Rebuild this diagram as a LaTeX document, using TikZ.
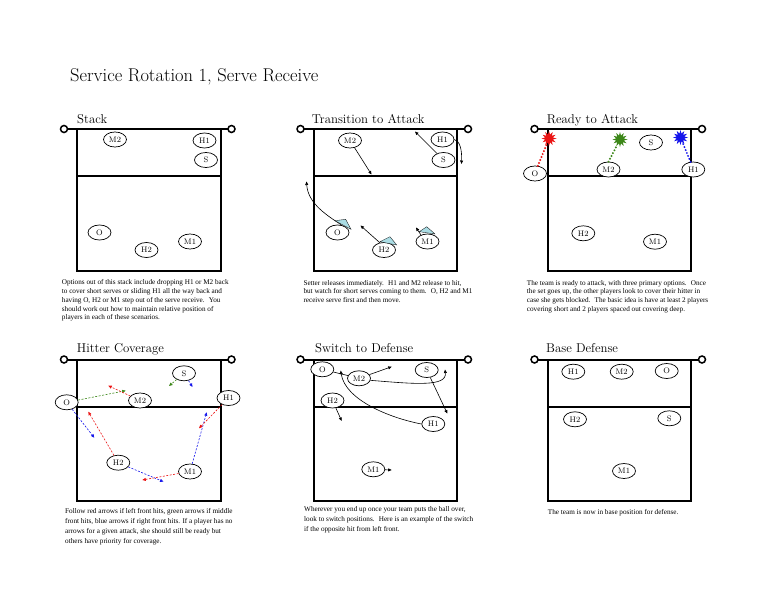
\documentclass[tikz,border=0pt]{standalone}
\usepackage{fontspec}
\newfontfamily\notefont{Liberation Serif}
\usetikzlibrary{shapes.geometric,arrows.meta}
\definecolor{hitred}{RGB}{235,20,20}
\definecolor{hitgreen}{RGB}{60,135,25}
\definecolor{hitblue}{RGB}{20,20,235}
\definecolor{padcyan}{RGB}{170,220,228}
\tikzset{
  player/.style={draw, ellipse, fill=white, minimum width=23pt, minimum height=15pt, inner sep=0pt, line width=0.7pt, font=\fontsize{8}{9}\selectfont},
  courtline/.style={line width=2pt},
  netpost/.style={line width=1.5pt, fill=white},
  panel/.style={anchor=base west, inner sep=0pt, font=\fontsize{12.8}{15}\selectfont},
  note/.style={anchor=north west, inner sep=0pt, align=left, font=\notefont\fontsize{7.2}{8.8}\selectfont},
  widenote/.style={note, font=\notefont\fontsize{7.2}{10}\selectfont},
  move/.style={-{Triangle[length=3.5pt,width=3pt]}, line width=0.6pt},
  cover/.style={move, dash pattern=on 2pt off 1.5pt},
  splat/.style={star, star points=12, star point ratio=1.9, minimum size=15pt, inner sep=0pt},
  reach/.style={line width=2.2pt, dash pattern=on 0pt off 3.2pt, line cap=round},
  pad/.style={fill=padcyan, draw=black, line width=0.3pt},
}
\newcommand{\drawcourt}[2]{%
  \draw[courtline] (#1,#2) rectangle ++(143.5,141.5);
  \draw[courtline] (#1,#2+47) -- ++(143.5,0);
  \draw[courtline] (#1-13,#2) -- (#1+154.5,#2);
  \draw[netpost] (#1-13,#2) circle (3.5);
  \draw[netpost] (#1+154.5,#2) circle (3.5);
}

\begin{document}
\begin{tikzpicture}[x=1pt,y=-1pt]
  \useasboundingbox (0,0) rectangle (768,594);
  \node[anchor=base west, inner sep=0pt, font=\fontsize{18.5}{22}\selectfont] (title) at (70,81.5) {Service Rotation 1, Serve Receive};

  % Stack
  \drawcourt{77}{129}
  \node[panel] (stack) at (77,123.5) {Stack};
  \node[player] (m2a) at (115,139.5) {M2};
  \node[player] (h1a) at (204.5,140.5) {H1};
  \node[player] (sa) at (206,160) {S};
  \node[player] (oa) at (99.5,232.5) {O};
  \node[player] (h2a) at (146.5,250) {H2};
  \node[player] (m1a) at (190,241.5) {M1};
  \node[note] (notea) at (61.7,279.5) {Options out of this stack include dropping H1 or M2 back\\
    to cover short serves or sliding H1 all the way back and\\
    having O, H2 or M1 step out of the serve receive.~ You\\
    should work out how to maintain relative position of\\
    players in each of these scenarios.};

  % Transition to Attack
  \drawcourt{313.5}{129}
  \node[panel] (trans) at (311.7,123.5) {Transition to Attack};
  \node[player] (m2b) at (350,140.5) {M2};
  \node[player] (h1b) at (442.5,139.5) {H1};
  \node[player] (sb) at (443.5,160) {S};
  \node[player] (ob) at (337.5,232.5) {O};
  \node[player] (h2b) at (384,250) {H2};
  \node[player] (m1b) at (427.5,241.5) {M1};
  \coordinate (m2b-to) at (371.5,174.5);
  \coordinate (sb-to) at (415,131.5);
  \coordinate (h1b-to) at (461.5,164);
  \coordinate (ob-to) at (306.5,181.5);
  \coordinate (h2b-to) at (360.5,225.5);
  \coordinate (m1b-to) at (416,227.5);
  \draw[move] (m2b) -- (m2b-to);
  \draw[move] (sb) -- (sb-to);
  \draw[move] (h1b.east) .. controls (460,141) and (462,150) .. (h1b-to);
  \draw[move] (ob.60) .. controls (328,216) and (308,204) .. (ob-to);
  \draw[move] (h2b.120) -- (h2b-to);
  \draw[move] (m1b.135) -- (m1b-to);
  \draw[pad] (335,220.7) -- (345.7,219.3) -- (351,229.3) -- cycle;
  \draw[pad] (380,241.7) -- (390,236.7) -- (396.7,245) -- cycle;
  \draw[pad] (419.3,231.7) -- (426.7,226.7) -- (435,234) -- cycle;
  \node[note] (noteb) at (303.3,280) {Setter releases immediately.~ H1 and M2 release to hit,\\
    but watch for short serves coming to them.~ O, H2 and M1\\
    receive serve first and then move.};

  % Ready to Attack
  \drawcourt{547.5}{129}
  \node[panel] (ready) at (546.7,123.5) {Ready to Attack};
  \node[player] (oc) at (535,173.5) {O};
  \node[player] (m2c) at (608.5,169.5) {M2};
  \node[player] (h1c) at (693.3,169.5) {H1};
  \node[player] (sc) at (651,142.5) {S};
  \node[player] (h2c) at (583.3,233.3) {H2};
  \node[player] (m1c) at (655,241.7) {M1};
  \node[splat, fill=hitred] (redhit) at (549,138.5) {};
  \node[splat, fill=hitgreen] (greenhit) at (620,139.5) {};
  \node[splat, fill=hitblue] (bluehit) at (680.5,137.5) {};
  \draw[reach, hitred] (oc.70) -- (redhit);
  \draw[reach, hitgreen] (m2c.north) -- (greenhit);
  \draw[reach, hitblue] (h1c.110) -- (bluehit);
  \node[note] (notec) at (526.7,280) {The team is ready to attack, with three primary options.~ Once\\
    the set goes up, the other players look to cover their hitter in\\
    case she gets blocked.~ The basic idea is have at least 2 players\\
    covering short and 2 players spaced out covering deep.};

  % Hitter Coverage
  \drawcourt{77}{359.5}
  \node[panel] (cover) at (76.7,352) {Hitter Coverage};
  \node[player] (od) at (66.7,402.3) {O};
  \node[player] (m2d) at (140,400.5) {M2};
  \node[player] (sd) at (184,373.3) {S};
  \node[player] (h1d) at (228.5,398) {H1};
  \node[player] (h2d) at (118.3,462.7) {H2};
  \node[player] (m1d) at (190,471.5) {M1};
  \coordinate (od-g) at (125.7,390.7);
  \coordinate (od-b) at (94.3,437.7);
  \coordinate (m2d-r) at (108.3,385.7);
  \coordinate (sd-g) at (169,386);
  \coordinate (sd-b) at (192.5,387);
  \coordinate (h2d-r) at (88.3,411.7);
  \coordinate (h2d-b) at (163.5,481.7);
  \coordinate (m1d-r) at (142.3,480);
  \coordinate (m1d-b) at (206.7,412.3);
  \coordinate (h1d-r) at (199,428.3);
  \draw[cover, hitgreen] (od) -- (od-g);
  \draw[cover, hitblue] (od) -- (od-b);
  \draw[cover, hitred] (m2d) -- (m2d-r);
  \draw[cover, hitgreen] (sd) -- (sd-g);
  \draw[cover, hitblue] (sd) -- (sd-b);
  \draw[cover, hitred] (h2d) -- (h2d-r);
  \draw[cover, hitblue] (h2d) -- (h2d-b);
  \draw[cover, hitred] (m1d) -- (m1d-r);
  \draw[cover, hitblue] (m1d) -- (m1d-b);
  \draw[cover, hitred] (h1d) -- (h1d-r);
  \node[widenote] (noted) at (65,508.5) {Follow red arrows if left front hits, green arrows if middle\\
    front hits, blue arrows if right front hits. If a player has no\\
    arrows for a given attack, she should still be ready but\\
    others have priority for coverage.};

  % Switch to Defense
  \drawcourt{313.5}{359.5}
  \node[panel] (switch) at (315,352) {Switch to Defense};
  \node[player] (oe) at (322.3,369.3) {O};
  \node[player] (m2e) at (359,378.3) {M2};
  \node[player] (se) at (426.7,370) {S};
  \node[player] (h2e) at (332.5,400.5) {H2};
  \node[player] (h1e) at (433.3,424) {H1};
  \node[player] (m1e) at (373.3,469.3) {M1};
  \coordinate (m2e-to) at (391.7,366.7);
  \coordinate (oe-to) at (445,369.5);
  \coordinate (h1e-to) at (340.7,370.5);
  \coordinate (se-to) at (447.3,413.5);
  \coordinate (h2e-to) at (341.7,421);
  \coordinate (m1e-to) at (391.7,470);
  \draw[move] (m2e) -- (m2e-to);
  \draw[line width=0.6pt] (oe) -- (m2e);
  \draw[move] (m2e.-10) .. controls (415,384) and (447,387) .. (oe-to);
  \draw[move] (h1e.west) .. controls (390,418) and (345,400) .. (h1e-to);
  \draw[move] (se) -- (se-to);
  \draw[move] (h2e) -- (h2e-to);
  \draw[move] (m1e) -- (m1e-to);
  \node[widenote] (notee) at (304,506.5) {Wherever you end up once your team puts the ball over,\\
    look to switch positions.~ Here is an example of the switch\\
    if the opposite hit from left front.};

  % Base Defense
  \drawcourt{547.5}{359.5}
  \node[panel] (base) at (546,352) {Base Defense};
  \node[player] (h1f) at (573.3,371.7) {H1};
  \node[player] (m2f) at (621.7,371.7) {M2};
  \node[player] (of) at (666.7,371) {O};
  \node[player] (h2f) at (575,419.3) {H2};
  \node[player] (sf) at (669.3,418.3) {S};
  \node[player] (m1f) at (624,471) {M1};
  \node[widenote] (notef) at (547.7,509) {The team is now in base position for defense.};
\end{tikzpicture}
\end{document}
